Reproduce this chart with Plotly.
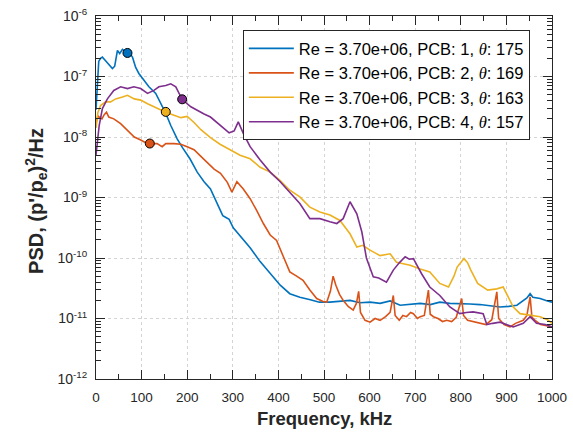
import plotly.graph_objects as go

# ---------------- data ----------------
f1 = [0, 3, 6, 10, 14, 20, 28, 36, 41, 47, 52, 58, 64, 69, 75, 80, 87, 94, 105, 116, 131, 142, 153, 164, 178, 190,
      206, 222, 237, 251, 265, 278, 285, 292, 301, 316, 338, 360, 382, 404, 425, 447, 470, 490, 513, 535, 557, 579,
      601, 623, 645, 667, 690, 711, 733, 754, 776, 798, 820, 842, 864, 886, 905, 923, 945, 952, 958, 974, 990, 1000]
lg1 = [-7.55, -7.0, -6.75, -6.70, -6.68, -6.73, -6.81, -6.87, -6.83, -6.57, -6.62, -6.55, -6.58, -6.61, -6.63, -6.68,
       -6.85, -6.95, -7.06, -7.17, -7.28, -7.45, -7.61, -7.81, -8.03, -8.18, -8.36, -8.58, -8.74, -8.86, -9.10, -9.30,
       -9.33, -9.36, -9.50, -9.63, -9.83, -10.06, -10.26, -10.45, -10.59, -10.65, -10.69, -10.73, -10.73, -10.72,
       -10.70, -10.74, -10.73, -10.75, -10.71, -10.78, -10.76, -10.75, -10.77, -10.73, -10.75, -10.75, -10.76,
       -10.77, -10.79, -10.81, -10.80, -10.78, -10.66, -10.59, -10.65, -10.67, -10.71, -10.73]

f2 = [0, 4, 7, 13, 18, 23, 28, 39, 54, 69, 84, 98, 108, 118, 134, 145, 153, 171, 186, 200, 215, 230, 244, 259, 273,
      288, 298, 309, 323, 338, 352, 367, 382, 396, 411, 425, 440, 454, 469, 484, 498, 506, 514, 520, 526, 534, 542,
      553, 564, 571, 576, 580, 590, 601, 612, 623, 635, 645, 652, 656, 665, 673, 681, 690, 696, 705, 711, 720, 729,
      733, 740, 750, 760, 769, 780, 790, 802, 806, 815, 828, 842, 855, 868, 879, 883, 895, 908, 920, 937, 945, 952,
      956, 963, 975, 988, 1000]
lg2 = [-7.78, -7.65, -7.67, -7.70, -7.63, -7.59, -7.67, -7.70, -7.78, -7.89, -8.00, -8.05, -8.09, -8.11, -8.11,
       -8.16, -8.11, -8.11, -8.12, -8.16, -8.21, -8.32, -8.43, -8.53, -8.60, -8.75, -8.91, -8.74, -8.86, -9.02,
       -9.21, -9.43, -9.62, -9.71, -9.98, -10.23, -10.30, -10.37, -10.53, -10.67, -10.72, -10.73, -10.55, -10.30,
       -10.45, -10.60, -10.70, -10.80, -10.86, -10.75, -10.55, -10.90, -11.03, -11.06, -11.00, -11.03, -10.97,
       -10.90, -10.62, -10.95, -11.03, -10.95, -10.97, -10.90, -10.92, -11.00, -10.97, -10.95, -10.53, -10.93,
       -10.97, -11.00, -11.05, -11.03, -11.05, -10.98, -10.67, -10.95, -11.03, -11.05, -11.08, -11.10, -11.02,
       -10.56, -11.00, -11.10, -11.14, -11.08, -11.03, -10.95, -10.64, -10.98, -11.03, -11.10, -11.12, -11.14]

f3 = [0, 4, 10, 21, 32, 43, 58, 69, 84, 98, 113, 127, 142, 153, 171, 186, 200, 215, 230, 251, 272, 294, 316, 338,
      360, 382, 404, 425, 447, 469, 491, 513, 535, 557, 572, 585, 601, 623, 645, 659, 675, 689, 711, 732, 754, 773,
      785, 792, 807, 815, 822, 837, 859, 879, 893, 905, 915, 930, 952, 974, 990, 1000]
lg3 = [-7.85, -7.60, -7.48, -7.42, -7.42, -7.37, -7.34, -7.31, -7.37, -7.39, -7.45, -7.50, -7.56, -7.59, -7.64,
       -7.68, -7.66, -7.76, -7.88, -8.01, -8.12, -8.21, -8.30, -8.36, -8.50, -8.58, -8.72, -8.88, -8.99, -9.16,
       -9.24, -9.29, -9.38, -9.60, -9.82, -9.79, -9.87, -9.96, -9.93, -10.07, -10.10, -10.12, -10.18, -10.23,
       -10.42, -10.48, -10.30, -10.15, -10.01, -10.08, -10.20, -10.42, -10.53, -10.51, -10.48, -10.65, -10.81,
       -10.92, -10.95, -10.97, -11.02, -11.08]

f4 = [0, 4, 7, 14, 25, 39, 54, 69, 83, 98, 113, 127, 138, 153, 164, 175, 189, 208, 222, 237, 251, 266, 281, 292,
      303, 312, 323, 338, 360, 382, 404, 425, 447, 469, 491, 513, 528, 542, 557, 572, 583, 593, 601, 608, 620, 637,
      652, 665, 678, 687, 696, 714, 732, 754, 776, 798, 812, 827, 849, 857, 870, 886, 900, 915, 937, 952, 966, 985,
      1000]
lg4 = [-8.30, -8.00, -7.81, -7.53, -7.37, -7.23, -7.17, -7.20, -7.17, -7.20, -7.28, -7.23, -7.17, -7.15, -7.12,
       -7.17, -7.38, -7.50, -7.56, -7.62, -7.67, -7.77, -7.87, -7.93, -7.90, -7.75, -7.94, -8.16, -8.38, -8.58,
       -8.74, -8.91, -9.10, -9.35, -9.35, -9.40, -9.43, -9.35, -9.07, -9.27, -9.57, -10.00, -10.15, -10.31, -10.33,
       -10.40, -10.20, -10.08, -9.98, -10.02, -10.01, -10.26, -10.48, -10.62, -10.81, -10.92, -10.90, -10.89,
       -10.92, -11.10, -11.08, -11.06, -11.10, -11.14, -11.08, -10.97, -11.08, -11.10, -11.14]

peak_f = [69, 118, 153, 189]
peak_psd = [2.45e-7, 7.8e-9, 2.6e-8, 4.2e-8]

names = ["Re = 3.70e+06, PCB: 1, <span style='font-family:Liberation Serif;font-style:italic'>θ</span>: 175",
         "Re = 3.70e+06, PCB: 2, <span style='font-family:Liberation Serif;font-style:italic'>θ</span>: 169",
         "Re = 3.70e+06, PCB: 3, <span style='font-family:Liberation Serif;font-style:italic'>θ</span>: 163",
         "Re = 3.70e+06, PCB: 4, <span style='font-family:Liberation Serif;font-style:italic'>θ</span>: 157"]
colors = ["#0072BD", "#D95319", "#EDB120", "#7E2F8E"]

y_tickvals = [1e-12, 1e-11, 1e-10, 1e-9, 1e-8, 1e-7, 1e-6]
y_ticktext = ["10<sup>-12</sup>", "10<sup>-11</sup>", "10<sup>-10</sup>", "10<sup>-9</sup>",
              "10<sup>-8</sup>", "10<sup>-7</sup>", "10<sup>-6</sup>"]

# ---------------- figure ----------------
fig = go.Figure()
series = [(f1, lg1), (f2, lg2), (f3, lg3), (f4, lg4)]
for (fx, lg), nm, c in zip(series, names, colors):
    fig.add_trace(go.Scatter(x=fx, y=[10 ** v for v in lg], mode="lines", name=nm,
                             line=dict(color=c, width=1.6)))
for xf, yp, c in zip(peak_f, peak_psd, colors):
    fig.add_trace(go.Scatter(x=[xf], y=[yp], mode="markers", showlegend=False,
                             marker=dict(color=c, size=9, line=dict(color="black", width=1))))

axcol = "#262626"
fig.update_layout(
    width=573, height=436,
    margin=dict(l=96, r=21, t=16, b=57),
    plot_bgcolor="white", paper_bgcolor="white",
    font=dict(family="Liberation Sans, Arial, sans-serif", color=axcol),
    showlegend=True,
    legend=dict(x=0.322, y=0.961, xanchor="left", yanchor="top",
                bgcolor="white", bordercolor=axcol, borderwidth=1,
                font=dict(size=16.5, color="black"), itemwidth=45, tracegroupgap=0),
    xaxis=dict(range=[0, 1000], dtick=100, tick0=0, ticks="inside", ticklen=9, tickcolor=axcol,
               showline=True, linecolor=axcol, linewidth=1, mirror="ticks", automargin=False,
               showgrid=True, gridcolor="#d4d4d4", griddash="dot", gridwidth=1, zeroline=False,
               minor=dict(dtick=50, ticks="inside", ticklen=5, tickcolor=axcol, showgrid=False),
               tickfont=dict(size=13.5, color=axcol), ticklabelstandoff=6),
    yaxis=dict(type="log", range=[-12, -6], tickvals=y_tickvals, ticktext=y_ticktext,
               ticks="inside", ticklen=9, tickcolor=axcol, automargin=False,
               showline=True, linecolor=axcol, linewidth=1, mirror="ticks",
               showgrid=True, gridcolor="#d4d4d4", griddash="dot", gridwidth=1, zeroline=False,
               minor=dict(tickvals=[k * 10.0 ** n for n in range(-12, -6) for k in range(2, 10)],
                          ticks="inside", ticklen=5, tickcolor=axcol, showgrid=False),
               tickfont=dict(size=14, color=axcol), ticklabelstandoff=5),
    annotations=[
        dict(text="<b>Frequency, kHz</b>", xref="paper", yref="paper", x=0.5, y=-0.11,
             xanchor="center", yanchor="middle", showarrow=False, font=dict(size=18.5, color=axcol)),
        dict(text="<b>PSD, (p'/p<sub>e</sub>)<sup>2</sup>/Hz</b>", xref="paper", yref="paper",
             x=-0.132, y=0.49, xanchor="center", yanchor="middle", textangle=-90,
             showarrow=False, font=dict(size=20, color=axcol)),
    ],
)

fig.write_html("out.html")
